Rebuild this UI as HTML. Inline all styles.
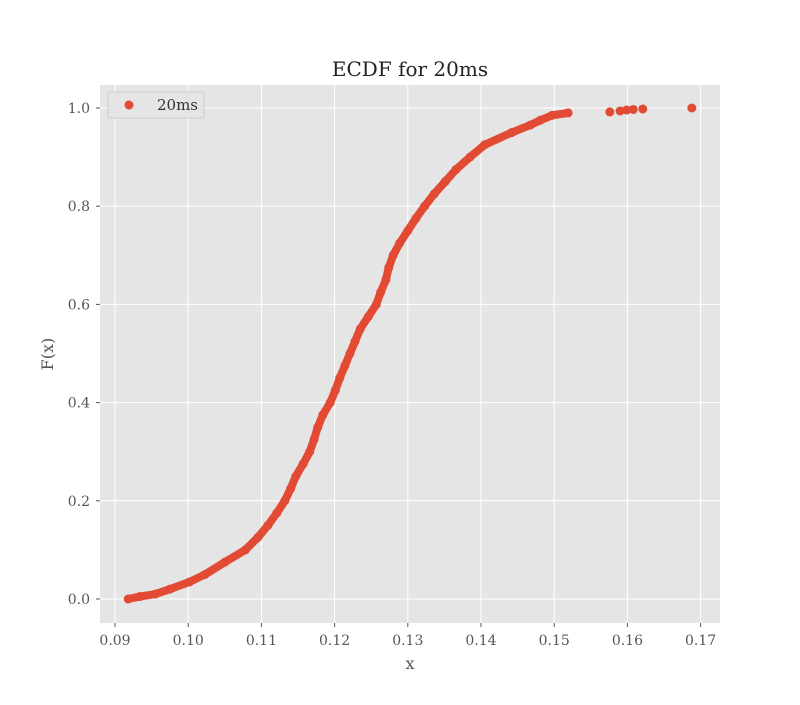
<!DOCTYPE html>
<html><head><meta charset="utf-8"><style>
body{margin:0;background:#fff;}
svg text{font-family:"DejaVu Serif","Liberation Serif",serif;}
.tick{font-size:14px;fill:#555;}
</style></head><body>
<svg width="800" height="700" xmlns="http://www.w3.org/2000/svg">
<rect x="0" y="0" width="800" height="700" fill="#fff"/>
<rect x="100" y="85" width="620" height="538" fill="#E5E5E5"/>
<g id="grid"></g>
<g id="ticks"></g>
<g id="series"></g>
<text x="410" y="76" text-anchor="middle" style="font-size:20px;fill:#222">ECDF for 20ms</text>
<text x="410" y="669" text-anchor="middle" style="font-size:16px;fill:#555">x</text>
<text x="53" y="354" text-anchor="middle" style="font-size:16px;fill:#555" transform="rotate(-90 53 354)">F(x)</text>
<g>
<rect x="108" y="92" width="96" height="26" rx="3" fill="#E5E5E5" stroke="#ccc" stroke-width="1"/>
<circle cx="129" cy="105" r="4.5" fill="#E24A33"/>
<text x="157" y="110" style="font-size:15px;fill:#333">20ms</text>
</g>
</svg>
<script>
const xTicks=[0.09,0.10,0.11,0.12,0.13,0.14,0.15,0.16,0.17];
const xTickLabels=["0.09","0.10","0.11","0.12","0.13","0.14","0.15","0.16","0.17"];
const yTicks=[0,0.2,0.4,0.6,0.8,1.0];
const yTickLabels=["0.0","0.2","0.4","0.6","0.8","1.0"];
const xValues=[0.0918,0.0934,0.0955,0.0975,0.1002,0.1023,0.1050,0.1078,0.1095,0.1109,0.1121,0.1132,0.1140,0.1147,0.1157,0.1166,0.1172,0.1177,0.1184,0.1194,0.1201,0.1207,0.1214,0.1221,0.1228,0.1235,0.1246,0.1257,0.1263,0.1270,0.1274,0.1280,0.1289,0.1300,0.1311,0.1323,0.1336,0.1351,0.1366,0.1385,0.1405,0.1442,0.1467,0.1481,0.1497,0.1519,0.1576,0.1590,0.1599,0.1608,0.1621,0.1688];
const fValues=[0,0.005,0.01,0.02,0.035,0.05,0.075,0.1,0.125,0.15,0.175,0.2,0.225,0.25,0.275,0.3,0.325,0.35,0.375,0.4,0.425,0.45,0.475,0.5,0.525,0.55,0.575,0.6,0.625,0.65,0.675,0.7,0.725,0.75,0.775,0.8,0.825,0.85,0.875,0.9,0.925,0.95,0.965,0.975,0.985,0.99,0.992,0.994,0.996,0.997,0.998,1.0];
const NS="http://www.w3.org/2000/svg";
function sx(v){return 115+(v-0.09)*7320;}
function sy(v){return 599-v*491;}
const grid=document.getElementById('grid'),ticks=document.getElementById('ticks'),series=document.getElementById('series');
xTicks.forEach((t,i)=>{
 const l=document.createElementNS(NS,'line');
 
 
 l.setAttribute('x1',sx(t));l.setAttribute('x2',sx(t));l.setAttribute('y1',85);l.setAttribute('y2',623);
 l.setAttribute('stroke','#fff');l.setAttribute('stroke-width','1');grid.appendChild(l);
 const tk=document.createElementNS(NS,'line');
 
 
 tk.setAttribute('x1',sx(t));tk.setAttribute('x2',sx(t));tk.setAttribute('y1',623);tk.setAttribute('y2',627);
 tk.setAttribute('stroke','#555');ticks.appendChild(tk);
 const tx=document.createElementNS(NS,'text');
 
 
 tx.setAttribute('x',sx(t));tx.setAttribute('y',645);tx.setAttribute('text-anchor','middle');
 tx.setAttribute('class','tick');tx.textContent=xTickLabels[i];ticks.appendChild(tx);
});
yTicks.forEach((t,i)=>{
 const l=document.createElementNS(NS,'line');
 
 
 l.setAttribute('x1',100);l.setAttribute('x2',720);l.setAttribute('y1',sy(t));l.setAttribute('y2',sy(t));
 l.setAttribute('stroke','#fff');l.setAttribute('stroke-width','1');grid.appendChild(l);
 const tk=document.createElementNS(NS,'line');
 
 
 tk.setAttribute('x1',96);tk.setAttribute('x2',100);tk.setAttribute('y1',sy(t));tk.setAttribute('y2',sy(t));
 tk.setAttribute('stroke','#555');ticks.appendChild(tk);
 const tx=document.createElementNS(NS,'text');
 
 
 tx.setAttribute('x',90);tx.setAttribute('y',sy(t)+5);tx.setAttribute('text-anchor','end');
 tx.setAttribute('class','tick');tx.textContent=yTickLabels[i];ticks.appendChild(tx);
});
let d='';
xValues.forEach((v,i)=>{if(xValues[i]<=0.1525){d+=(d?'L':'M')+sx(v)+','+sy(fValues[i]);}});
const p=document.createElementNS(NS,'path');


p.setAttribute('d',d);p.setAttribute('fill','none');p.setAttribute('stroke','#E24A33');
p.setAttribute('stroke-width','8');p.setAttribute('stroke-linecap','round');p.setAttribute('stroke-linejoin','round');
series.appendChild(p);
xValues.forEach((v,i)=>{
 const c=document.createElementNS(NS,'circle');
 
 
 c.setAttribute('cx',sx(v));c.setAttribute('cy',sy(fValues[i]));c.setAttribute('r','4.5');
 c.setAttribute('fill','#E24A33');series.appendChild(c);
});
</script>
</body></html>
